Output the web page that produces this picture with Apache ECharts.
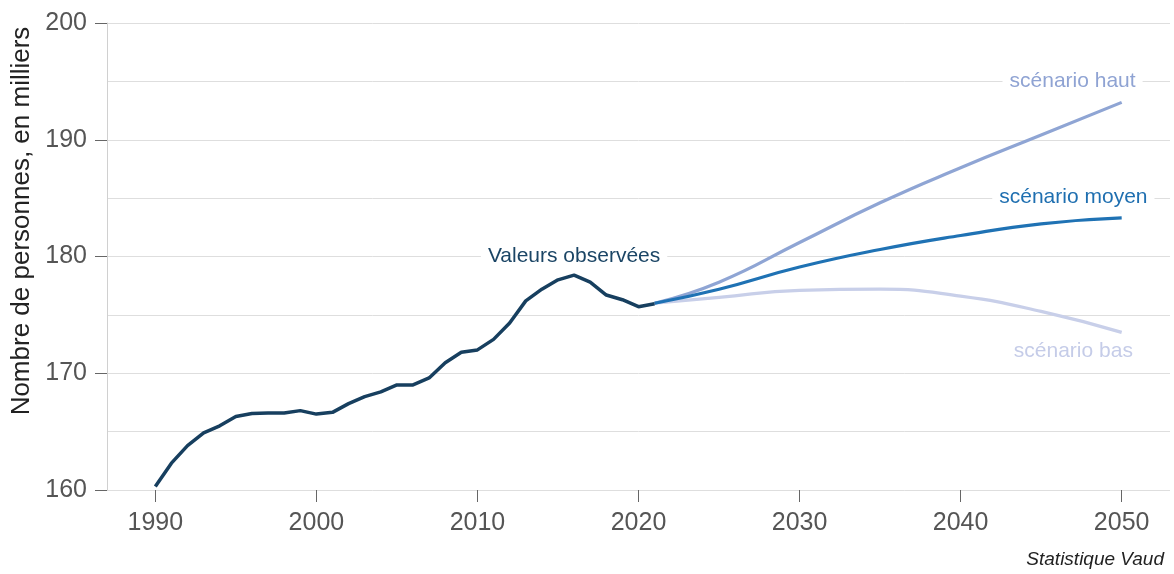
<!DOCTYPE html>
<html>
<head>
<meta charset="utf-8">
<script src="https://cdn.jsdelivr.net/npm/echarts@6/dist/echarts.min.js"></script>
<style>
  html, body { margin: 0; padding: 0; background: #fff; }
  #chart { width: 1174px; height: 574px; }
</style>
</head>
<body>
<div id="chart"></div>
<script>
// valeurs observées (milliers de personnes)
const obsYears = [1990, 1991, 1992, 1993, 1994, 1995, 1996, 1997, 1998, 1999,
                  2000, 2001, 2002, 2003, 2004, 2005, 2006, 2007, 2008, 2009,
                  2010, 2011, 2012, 2013, 2014, 2015, 2016, 2017, 2018, 2019,
                  2020, 2021];
const obsValues = [160.3, 162.3, 163.8, 164.9, 165.5, 166.3, 166.55, 166.6, 166.6, 166.8,
                   166.5, 166.65, 167.4, 168.0, 168.4, 169.0, 169.0, 169.6, 170.9, 171.8,
                   172.0, 172.9, 174.3, 176.2, 177.2, 178.0, 178.4, 177.8, 176.7, 176.3,
                   175.7, 175.95];

// scénarios
const scenYears = [2021, 2025, 2030, 2035, 2040, 2045, 2050];
const hautValues = [176.0, 177.8, 181.2, 184.6, 187.6, 190.4, 193.2];
const moyenValues = [176.0, 177.2, 179.1, 180.6, 181.8, 182.8, 183.3];
const basValues = [176.0, 176.5, 177.1, 177.2, 176.6, 175.3, 173.5];

const xTicks = [1990, 2000, 2010, 2020, 2030, 2040, 2050];

const FONT = 'Liberation Sans, Arial, sans-serif';

function pairs(xs, ys) {
    return xs.map(function (x, i) { return [x, ys[i]]; });
}

// étiquette posée sur la courbe, fond blanc pour couper la grille
function lineLabel(text, coord, color) {
    return {
        symbol: 'circle',
        symbolSize: 1,
        silent: true,
        itemStyle: { color: 'rgba(0,0,0,0)' },
        label: {
            show: true, position: 'inside', formatter: text,
            color: color, fontSize: 21, fontFamily: FONT,
            backgroundColor: '#fff', padding: [2, 7]
        },
        data: [{ coord: coord }]
    };
}

let chart = echarts.init(document.getElementById('chart'), null, { renderer: 'canvas' });

let option = {
    animation: false,
    grid: { left: 107, right: 4, top: 23, bottom: 84, containLabel: false },
    title: {
        text: 'Statistique Vaud', right: 5, bottom: 0,
        textStyle: { fontSize: 19, fontStyle: 'italic', fontWeight: 'normal', color: '#222', fontFamily: FONT }
    },
    graphic: [{
        type: 'text', x: 22, y: 221, rotation: Math.PI / 2,
        style: {
            text: 'Nombre de personnes, en milliers', fill: '#222',
            fontSize: 26, fontFamily: FONT, align: 'center', verticalAlign: 'middle'
        }
    }],
    xAxis: {
        type: 'value', min: 1987, max: 2053,
        axisLine: { show: false },
        splitLine: { show: false },
        axisTick: { show: true, length: 12, customValues: xTicks, lineStyle: { color: '#666' } },
        axisLabel: {
            customValues: xTicks, fontSize: 25, color: '#555', margin: 21, fontFamily: FONT,
            formatter: function (v) { return String(v); }
        }
    },
    yAxis: [{
        type: 'value', min: 160, max: 200, interval: 5,
        axisLine: { show: true, lineStyle: { color: '#d0d0d0' } },
        axisTick: { show: false },
        axisLabel: { show: false },
        splitLine: { show: true, lineStyle: { color: '#dedede', width: 1 } }
    }, {
        type: 'value', min: 160, max: 200, interval: 10, position: 'left',
        axisLine: { show: false },
        axisTick: { show: true, length: 12, lineStyle: { color: '#666' } },
        axisLabel: { fontSize: 25, color: '#555', margin: 20, fontFamily: FONT },
        splitLine: { show: false }
    }],
    series: [{
        name: 'scénario bas', type: 'line', smooth: 0.5, showSymbol: false,
        data: pairs(scenYears, basValues),
        lineStyle: { color: '#c8cfe9', width: 3.2 },
        markPoint: lineLabel('scénario bas', [2047.0, 171.85], '#c5cce8')
    }, {
        name: 'scénario haut', type: 'line', smooth: 0.5, showSymbol: false,
        data: pairs(scenYears, hautValues),
        lineStyle: { color: '#8fa5d4', width: 3.2 },
        markPoint: lineLabel('scénario haut', [2046.95, 195], '#8fa3d3')
    }, {
        name: 'scénario moyen', type: 'line', smooth: 0.5, showSymbol: false,
        data: pairs(scenYears, moyenValues),
        lineStyle: { color: '#1f72b4', width: 3.2 },
        markPoint: lineLabel('scénario moyen', [2047.0, 185.1], '#1f6fb0')
    }, {
        name: 'Valeurs observées', type: 'line', showSymbol: false,
        data: pairs(obsYears, obsValues),
        lineStyle: { color: '#173f5f', width: 3.5 },
        markPoint: lineLabel('Valeurs observées', [2016.0, 180], '#1b4565')
    }]
};

chart.setOption(option);
</script>
</body>
</html>
